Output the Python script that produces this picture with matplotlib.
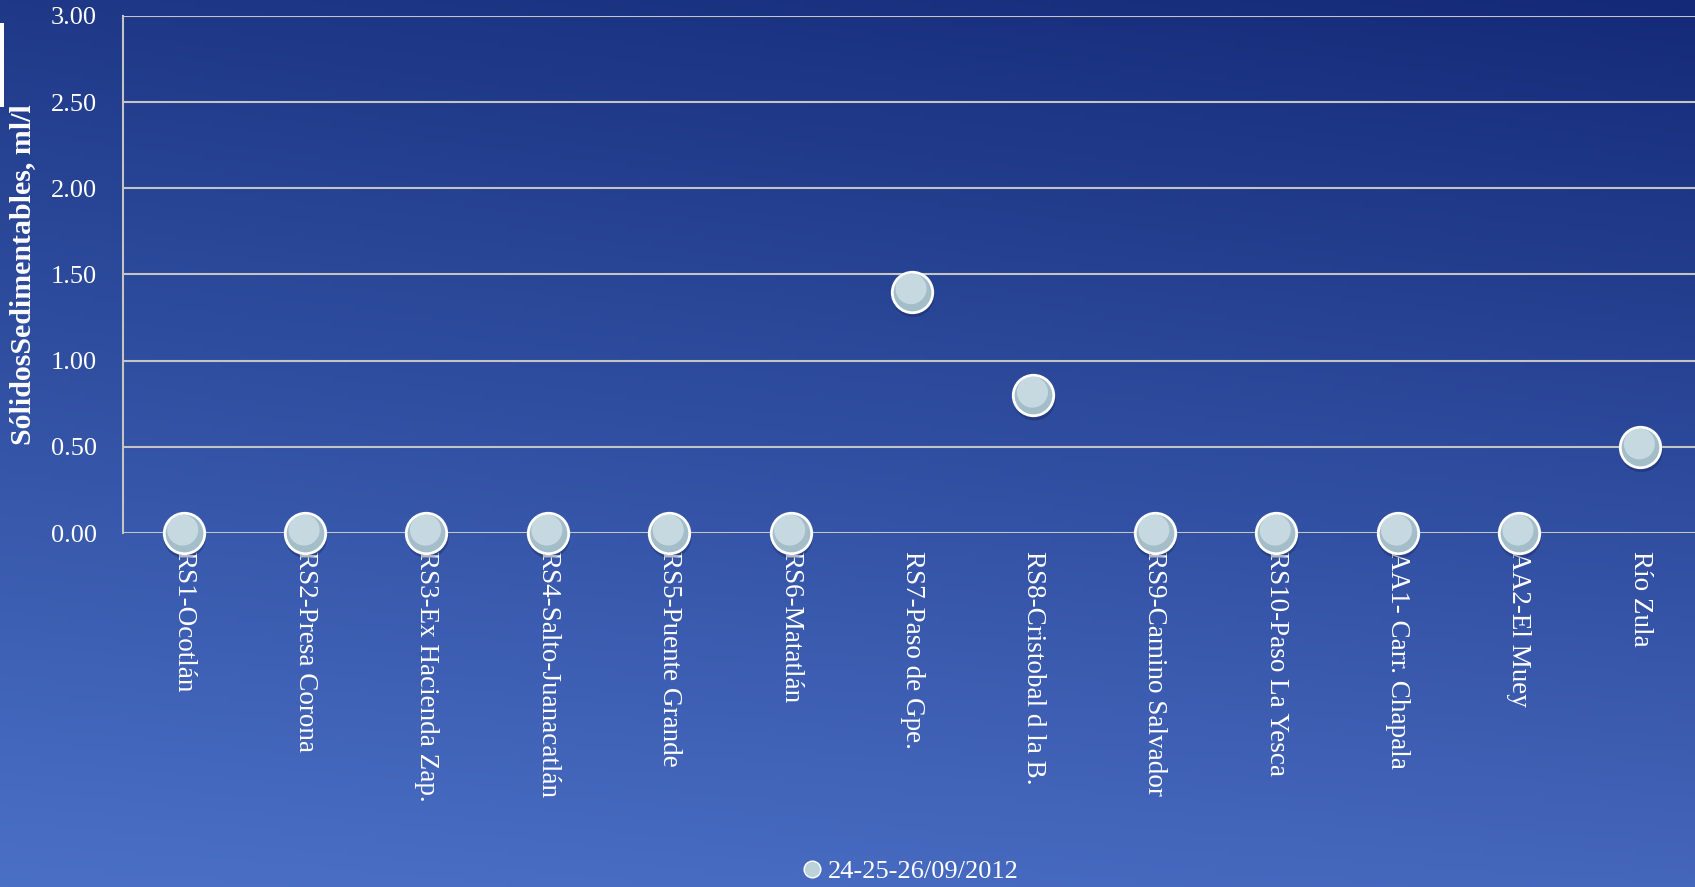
import numpy as np
import matplotlib.pyplot as plt
from matplotlib.patches import Rectangle
from matplotlib.lines import Line2D
from matplotlib.transforms import offset_copy

# estaciones de muestreo y resultados
estaciones = ['RS1-Ocotlán', 'RS2-Presa Corona', 'RS3-Ex Hacienda Zap.', 'RS4-Salto-Juanacatlán',
              'RS5-Puente Grande', 'RS6-Matatlán', 'RS7-Paso de Gpe.', 'RS8-Cristobal d la B.',
              'RS9-Camino Salvador', 'RS10-Paso La Yesca', 'AA1- Carr. Chapala', 'AA2-El Muey',
              'Río Zula']
solidos = [0.0, 0.0, 0.0, 0.0, 0.0, 0.0, 1.4, 0.8, 0.0, 0.0, 0.0, 0.0, 0.5]
y_ticks = [0.0, 0.5, 1.0, 1.5, 2.0, 2.5, 3.0]
fecha = '24-25-26/09/2012'

fuente = ['Liberation Serif', 'DejaVu Serif']

fig = plt.figure(figsize=(16.95, 8.871), dpi=100)

# fondo degradado azul
bg = fig.add_axes([0, 0, 1, 1], zorder=-10)
yy, xx = np.mgrid[0:1:200j, 0:1:200j]
top = np.array([0x1f, 0x39, 0x88]) / 255
top_r = np.array([0x14, 0x2a, 0x78]) / 255
bot = np.array([0x4a, 0x70, 0xc6]) / 255
bot_r = np.array([0x44, 0x66, 0xbb]) / 255
img = ((1 - yy)[..., None] * ((1 - xx)[..., None] * bot + xx[..., None] * bot_r)
       + yy[..., None] * ((1 - xx)[..., None] * top + xx[..., None] * top_r))
bg.imshow(img, origin='lower', aspect='auto', extent=[0, 1, 0, 1])
bg.axis('off')

fig.patches.append(Rectangle((0, 0.879), 0.0024, 0.095, transform=fig.transFigure,
                             facecolor='white', edgecolor='none'))

ax = fig.add_axes([123 / 1695, 0.399, 1 - 123 / 1695, 0.583])
ax.set_facecolor('none')
x = np.arange(len(estaciones))

# sombra de los marcadores
sombra = offset_copy(ax.transData, fig=fig, x=1, y=-4, units='dots')
ax.scatter(x, solidos, s=940, color='#0c1a45', alpha=0.3, edgecolors='none',
           transform=sombra, zorder=3, clip_on=False)
ax.scatter(x, solidos, s=850, color='#a3bdc9', edgecolors='white', linewidths=2,
           zorder=4, clip_on=False)
brillo = offset_copy(ax.transData, fig=fig, x=-1, y=3, units='dots')
ax.scatter(x, solidos, s=500, color='#d6e5ec', edgecolors='none', alpha=0.7,
           transform=brillo, zorder=5, clip_on=False)

ax.set_xlim(-0.5, 12.45)
ax.set_ylim(0, 3)
ax.set_yticks(y_ticks)
ax.set_yticklabels([f'{v:.2f}' for v in y_ticks], color='white', fontsize=19, family=fuente)
ax.set_xticks(x)
ax.set_xticklabels(estaciones, rotation=-90, color='white', fontsize=19.5, family=fuente)
ax.tick_params(axis='x', length=0, pad=13)
ax.tick_params(axis='y', length=0, pad=19)

ax.grid(axis='y', color='#c4c4c4', linewidth=1.5)
ax.set_axisbelow(True)
for lado in ['top', 'right', 'bottom']:
    ax.spines[lado].set_visible(False)
ax.spines['left'].set_color('#c4c4c4')
ax.spines['left'].set_linewidth(1.5)

ax.set_ylabel('SólidosSedimentables, ml/l', color='white', fontsize=21.5,
              fontweight='bold', family=fuente)
ax.yaxis.set_label_coords(-0.055, 0.5)

marca = Line2D([], [], marker='o', linestyle='none', markersize=12,
               markerfacecolor='#bcd2db', markeredgecolor='white', markeredgewidth=1)
fig.legend(handles=[marca], labels=[fecha], loc='center', bbox_to_anchor=(0.536, 0.018),
           frameon=False, handletextpad=0.1, handlelength=1,
           prop={'family': fuente, 'size': 19}, labelcolor='white')

fig.savefig('out.png', dpi=100)
